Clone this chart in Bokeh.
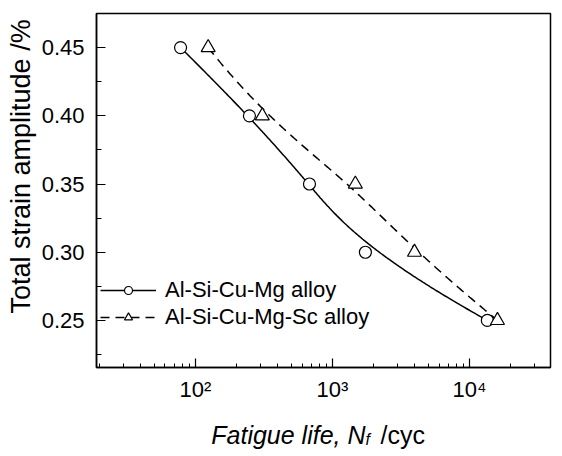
import numpy as np
from bokeh.plotting import figure
from bokeh.layouts import column
from bokeh.models import (FixedTicker, SingleIntervalTicker, Legend, LegendItem,
                          Title, PrintfTickFormatter)
from bokeh.core.properties import value
from bokeh.embed import file_html
from bokeh.resources import INLINE

# ---- data ----
cycles_mg = [78, 248, 680, 1740, 13500]
strain_mg = [0.45, 0.40, 0.35, 0.30, 0.25]
cycles_sc = [124, 308, 1470, 3970, 16000]
strain_sc = [0.45, 0.40, 0.35, 0.30, 0.25]
series_names = ["Al-Si-Cu-Mg alloy", "Al-Si-Cu-Mg-Sc alloy"]
x_major = [100, 1000, 10000]
x_major_labels = ["10\u00b2", "10\u00b3", "10\u2074"]
y_label_text = "Total strain amplitude /%"
x_label_parts = ["Fatigue life, N", "f", "/cyc"]

FONT = "Liberation Sans"


def bspline(px, py, n=300, k=3):
    """Clamped uniform B-spline on the control polygon (px, py)."""
    px = np.asarray(px, float)
    py = np.asarray(py, float)
    m = len(px)
    inner = np.arange(1, m - k)
    knots = np.concatenate([np.zeros(k + 1), inner, np.full(k + 1, m - k)]).astype(float)
    ts = np.linspace(0, m - k, n)
    out_x, out_y = [], []
    for t in ts:
        if t >= knots[-1]:
            j = m - 1
        else:
            j = np.searchsorted(knots, t, side="right") - 1
        dx = [px[i] for i in range(j - k, j + 1)]
        dy = [py[i] for i in range(j - k, j + 1)]
        for r in range(1, k + 1):
            for i in range(k, r - 1, -1):
                idx = i + j - k
                den = knots[idx + k + 1 - r] - knots[idx]
                a = 0.0 if den == 0 else (t - knots[idx]) / den
                dx[i] = (1 - a) * dx[i - 1] + a * dx[i]
                dy[i] = (1 - a) * dy[i - 1] + a * dy[i]
        out_x.append(dx[k])
        out_y.append(dy[k])
    return np.array(out_x), np.array(out_y)


p = figure(width=562, height=415, x_axis_type="log",
           x_range=(19, 39000), y_range=(0.2155, 0.475),
           output_backend="svg", toolbar_location=None,
           min_border_left=96, min_border_right=12,
           min_border_top=13, min_border_bottom=48)
p.background_fill_color = "white"
p.border_fill_color = "white"
p.grid.visible = False
p.outline_line_color = "black"
p.outline_line_width = 1.5

# smooth (B-spline) connection lines built from the data points in log-x space
bx, by = bspline(np.log10(cycles_mg), strain_mg)
cx, cy = bspline(np.log10(cycles_sc), strain_sc)

l1 = p.line(10 ** bx, by, line_color="black", line_width=1.5)
l2 = p.line(10 ** cx, cy, line_color="black", line_width=1.5, line_dash="9 6")
s1 = p.scatter(cycles_mg, strain_mg, marker="circle", size=12,
               fill_color="white", line_color="black", line_width=1.2)
s2 = p.scatter(cycles_sc, strain_sc, marker="triangle", size=14,
               fill_color="white", line_color="black", line_width=1.2)

# axes
minor = [k * d for d in [10, 100, 1000, 10000] for k in range(2, 10)]
p.xaxis.ticker = FixedTicker(ticks=x_major, minor_ticks=minor)
p.xaxis.major_label_overrides = {float(t): lab for t, lab in zip(x_major, x_major_labels)}
p.yaxis.ticker = SingleIntervalTicker(interval=0.05, num_minor_ticks=2)
p.yaxis.formatter = PrintfTickFormatter(format="%.2f")

for ax in (p.xaxis[0], p.yaxis[0]):
    ax.axis_line_color = "black"
    ax.axis_line_width = 1.5
    ax.major_tick_line_color = "black"
    ax.minor_tick_line_color = "black"
    ax.major_tick_line_width = 1.2
    ax.minor_tick_line_width = 1.0
    ax.major_tick_in = 9
    ax.major_tick_out = 0
    ax.minor_tick_in = 4
    ax.minor_tick_out = 0
    ax.major_label_text_font = FONT
    ax.major_label_text_font_size = "22px"
    ax.major_label_text_color = "black"

p.yaxis.minor_tick_in = 5
p.yaxis.major_label_standoff = 12
p.xaxis.major_label_standoff = 9

p.add_layout(Title(text=y_label_text, align="left", offset=54, standoff=6,
                   text_font=FONT, text_font_size="27px", text_font_style="normal",
                   text_color="black"), "left")

legend = Legend(items=[LegendItem(label=series_names[0], renderers=[l1, s1]),
                       LegendItem(label=series_names[1], renderers=[l2, s2])],
                location=(4, 37), orientation="vertical",
                glyph_width=56, glyph_height=20, label_height=20,
                label_standoff=9, spacing=1, padding=0, margin=0,
                label_text_font=FONT, label_text_font_size="22px",
                label_text_color="black",
                background_fill_alpha=0, border_line_alpha=0)
p.add_layout(legend)

# strip below the chart holding the mixed-style x-axis title
# (its frame is aligned with the main frame: x from 96 to 550 px)
q = figure(width=562, height=41, x_range=(96, 550), y_range=(0, 41),
           output_backend="svg", toolbar_location=None,
           x_axis_location=None, y_axis_location=None,
           min_border_left=96, min_border_right=12,
           min_border_top=0, min_border_bottom=0)
q.grid.visible = False
q.outline_line_color = None
q.background_fill_color = "white"
q.border_fill_color = "white"
q.text(x=[365], y=[22], text=[x_label_parts[0]], text_align="right",
       text_baseline="alphabetic", text_font=value(FONT), text_font_style="italic",
       text_font_size="25px", text_color="black")
q.text(x=[365], y=[17], text=[x_label_parts[1]], text_align="left",
       text_baseline="alphabetic", text_font=value(FONT), text_font_style="italic",
       text_font_size="16px", text_color="black")
q.text(x=[380], y=[22], text=[x_label_parts[2]], text_align="left",
       text_baseline="alphabetic", text_font=value(FONT),
       text_font_size="25px", text_color="black")

layout = column(p, q, spacing=0)
open("out.html", "w").write(file_html(layout, INLINE))
